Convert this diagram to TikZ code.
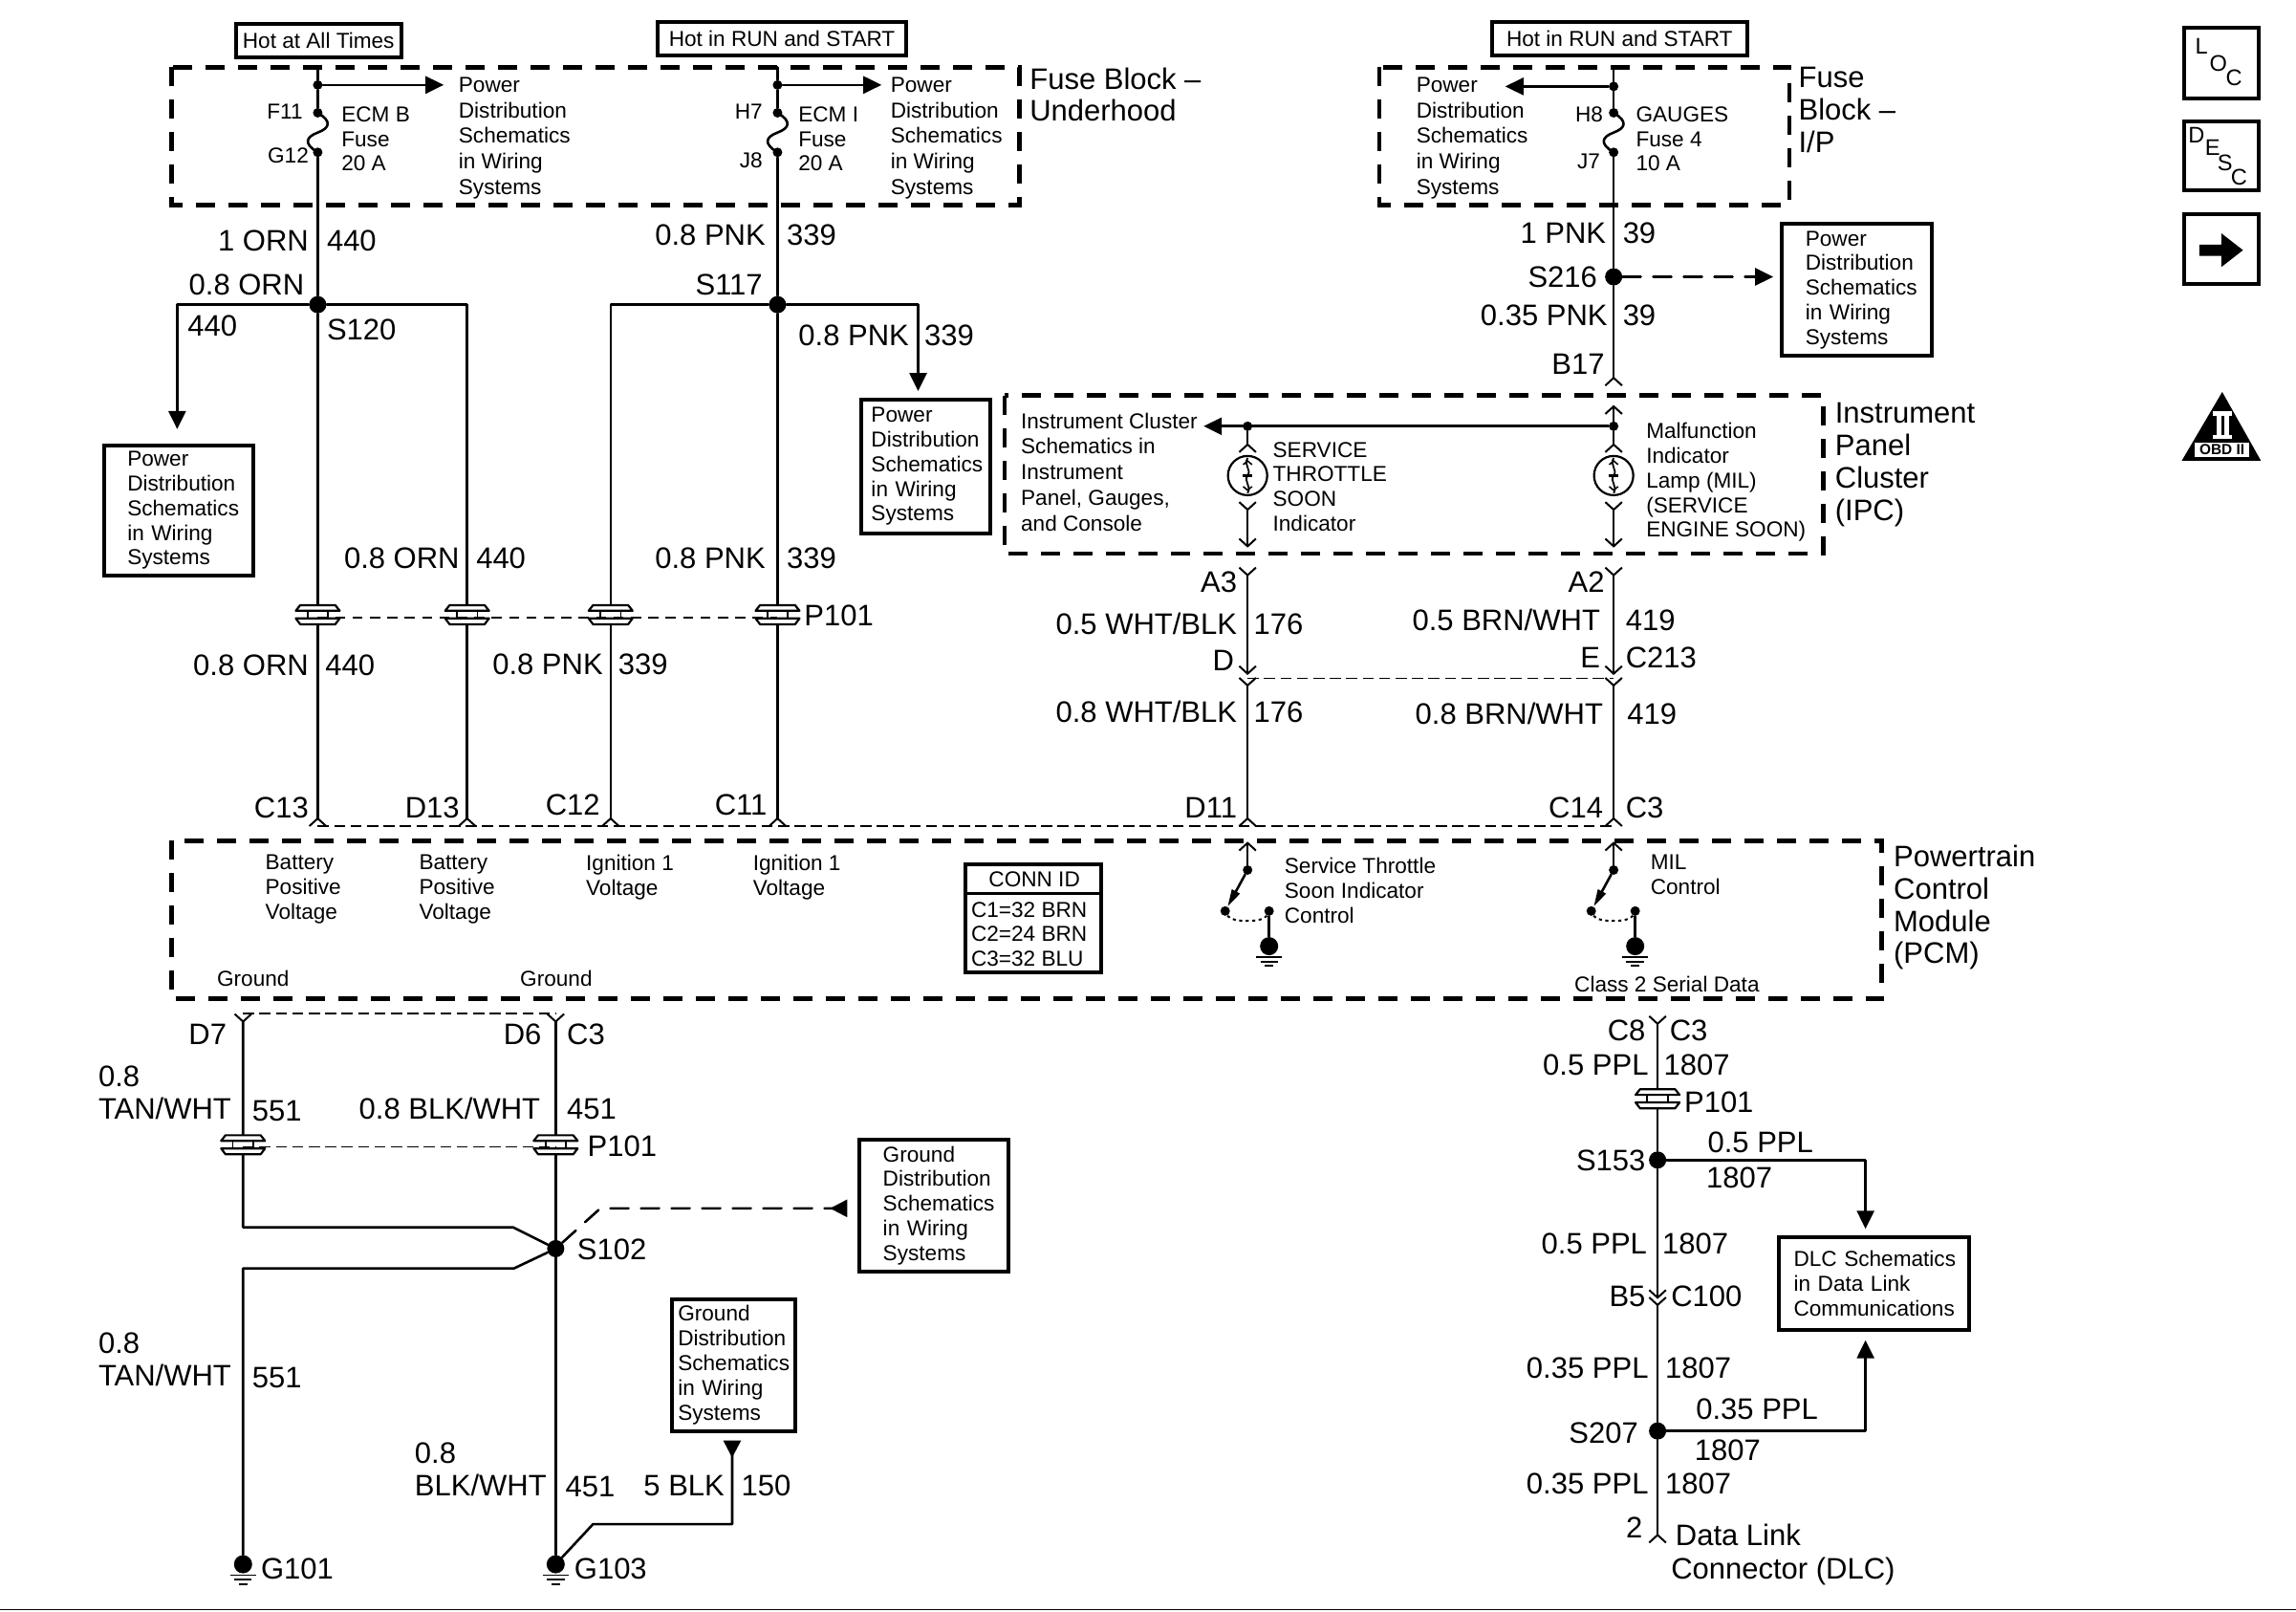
\documentclass[tikz,border=0pt]{standalone}
\usepackage{fontspec}
\setmainfont{Liberation Sans}
\usetikzlibrary{arrows.meta,calc}
\newcount\lblc
\newcommand\bigfont{\fontsize{15.5}{17}\selectfont}
\newcommand\smfont{\fontsize{11.3}{12.9}\selectfont}
\newcommand\smloose{\fontsize{11.3}{13.4}\selectfont}
\tikzset{
  wire/.style={line width=1.3pt,line cap=round,line join=round},
  thin wire/.style={line width=1pt,line join=round},
  fat/.style={-{Triangle[length=9.5pt,width=9pt]}},
  fatback/.style={-{Triangle[reversed,length=9pt,width=9pt]}},
  zone/.style={draw,line width=2.3pt,dash pattern=on 10pt off 7pt},
  link/.style={line width=.7pt,dash pattern=on 5.8pt off 2.8pt},
  link thick/.style={line width=1pt,dash pattern=on 5.3pt off 3.8pt},
  wire dash/.style={dash pattern=on 9.5pt off 6.5pt},
  jd/.style={circle,fill=black,inner sep=0,minimum size=9pt},
  sd/.style={circle,fill=black,inner sep=0,minimum size=5pt},
  gd/.style={circle,fill=black,inner sep=0,minimum size=9.5pt},
  bl/.style={font=\bigfont,inner sep=0,text height=11.1pt,text depth=0pt},
  sl/.style={font=\smfont,inner sep=0,text height=8.2pt,text depth=0pt},
  ml/.style={font=\smfont,inner sep=0,align=left,anchor=north west},
  mn/.style={font=\smloose,inner sep=0,align=left,anchor=north west},
  mb/.style={font=\fontsize{15.5}{16.9}\selectfont,inner sep=0,align=left,anchor=north west},
  pbx/.style={draw,line width=2pt,font=\smfont,inner xsep=0,inner ysep=0,align=left},
  hot/.style={draw,line width=2pt,font=\smfont,inner sep=0,align=center},
  ico/.style={draw,line width=2pt,inner sep=0},
  let/.style={font=\fontsize{11.8}{12}\selectfont,inner sep=0},
}
\newcommand\bigW[3]{\global\advance\lblc1 \node[bl,anchor=west] (t\the\lblc) at (#1,#2) {#3};}
\newcommand\bigE[3]{\global\advance\lblc1 \node[bl,anchor=east] (t\the\lblc) at (#1,#2) {#3};}
\newcommand\smW[3]{\global\advance\lblc1 \node[sl,anchor=west] (t\the\lblc) at (#1,#2) {#3};}
\newcommand\smE[3]{\global\advance\lblc1 \node[sl,anchor=east] (t\the\lblc) at (#1,#2) {#3};}
\newcommand\smM[3]{\global\advance\lblc1 \node[ml] (t\the\lblc) at (#1,{#2-5.5}) {#3};}
\newcommand\smN[3]{\global\advance\lblc1 \node[mn] (t\the\lblc) at (#1,{#2-5.5}) {#3};}
\newcommand\bigM[3]{\global\advance\lblc1 \node[mb] (t\the\lblc) at (#1,{#2-7.2}) {#3};}
% name x1 y1 x2 y2 pad text
\newcommand\pbox[7]{%
  \pgfmathsetmacro\bw{(#4-#2)*0.766}\pgfmathsetmacro\bh{(#5-#3)*0.766}\pgfmathsetmacro\bp{#6*0.766}%
  \node[pbx,text width=\bw pt,minimum height=\bh pt] (#1) at ({(#2+#4)/2},{(#3+#5)/2}) {\leftskip=\bp pt\relax #7\par};}
\newcommand\hotbox[6]{%
  \pgfmathsetmacro\bw{(#4-#2)*0.766}\pgfmathsetmacro\bh{(#5-#3)*0.766}%
  \node[hot,minimum width=\bw pt,minimum height=\bh pt] (#1) at ({(#2+#4)/2},{(#3+#5)/2}) {#6};}
\newcommand\tipU[2]{\draw[thin wire] ({#1-5.7},{#2+5.2}) -- (#1,#2) -- ({#1+5.7},{#2+5.2});}
\newcommand\tipD[2]{\draw[thin wire] ({#1-5.7},{#2-5.2}) -- (#1,#2) -- ({#1+5.7},{#2-5.2});}
\newcommand\pconn[2]{%
  \fill[white] ({#1-10},{#2-2.5}) rectangle ({#1+10},{#2+2.7});
  \draw[line width=1.1pt,line join=round,fill=white] ({#1-12},{#2-6.3}) -- ({#1+12},{#2-6.3}) -- ({#1+15},{#2-2.5}) -- ({#1-15},{#2-2.5}) -- cycle;
  \draw[line width=1.1pt,line join=round,fill=white] ({#1-15},{#2+2.7}) -- ({#1+15},{#2+2.7}) -- ({#1+12},{#2+6.7}) -- ({#1-12},{#2+6.7}) -- cycle;
  \draw[line width=.9pt] ({#1-7},{#2-2.5}) -- ({#1-7},{#2+2.7}) ({#1+7},{#2-2.5}) -- ({#1+7},{#2+2.7});}
\newcommand\gnd[2]{%
  \draw[line width=.9pt] ({#1-9},{#2+7.5}) -- ({#1+9},{#2+7.5});
  \draw[line width=.9pt] ({#1-6},{#2+10.5}) -- ({#1+6},{#2+10.5});
  \draw[line width=.9pt] ({#1-3},{#2+13.5}) -- ({#1+3},{#2+13.5});}
\newcommand\fusew[2]{\draw[wire] (#1.center) .. controls +(10,6) and +(8,-3) .. ($(#1.center)!.5!(#2.center)$) .. controls +(-8,3) and +(-10,-6) .. (#2.center);}
\newcommand\lamp[2]{%
  \draw[line width=1.1pt] (#1,#2) circle [radius=13.4];
  \draw[line width=.9pt] (#1,{#2-12}) .. controls ({#1-3},{#2-7}) and ({#1+3},{#2-4}) .. (#1,#2) .. controls ({#1-3},{#2+4}) and ({#1+3},{#2+7}) .. (#1,{#2+12});
  \draw[line width=.8pt] ({#1-3},{#2-7.5}) -- (#1,{#2-10}) -- ({#1+3},{#2-7.5});
  \draw[line width=.8pt] ({#1-3},{#2+7.5}) -- (#1,{#2+10}) -- ({#1+3},{#2+7.5});
  \draw[line width=1.4pt] ({#1-3.5},#2) -- ({#1+3},#2);}
\newcommand\swtch[2]{% x, name prefix
  \pgfmathsetmacro\gx{#1+14.7}%
  \node[sd] (#2a) at (#1,594) {};
  \node[sd] (#2b) at ({#1-15.3},622) {};
  \node[sd] (#2c) at (\gx,622) {};
  \node[gd] (#2g) at (\gx,646) {};
  \coordinate (#2t) at (#1,575.5);
  \draw[wire] (#2t) -- (#2a);
  \draw[wire,-{Triangle[length=9pt,width=4.5pt]}] (#2a) -- (#2b);
  \draw[line width=1pt,dash pattern=on 1.6pt off 1.8pt] (#2b) .. controls +(4,8) and +(-4,8) .. (#2c);
  \draw[wire] (#2c) -- (#2g);
  \tipU{#1}{575.5}
  \gnd{\gx}{646}}
\begin{document}
\begin{tikzpicture}[x=0.766pt,y=-0.766pt]
\useasboundingbox (0,0) rectangle (1568,1100);
\fill[white] (0,0) rectangle (1568,1100);
\coordinate (bl0) at (0,1099);\coordinate (bl1) at (1568,1099);
\draw[line width=.7pt] (bl0) -- (bl1);

% zones
\draw[zone] (117,46) rectangle (696,140);
\draw[zone] (942,46) rectangle (1222,140);
\draw[zone] (686,270) rectangle (1245,378);
\draw[zone] (117,574) rectangle (1285,682);

% power feed boxes
\hotbox{hotA}{161}{16}{274}{39}{Hot at All Times}
\hotbox{hotB}{449}{15}{619}{38}{Hot in RUN and START}
\hotbox{hotC}{1019}{15}{1193}{38}{Hot in RUN and START}

% top-left junctions
\node[sd] (j1) at (217,58) {};
\node[sd] (f11) at (217,77) {};
\node[sd] (g12) at (217,104) {};
\node[jd] (s120) at (217,208) {};
\node[sd] (j2) at (531,58) {};
\node[sd] (h7) at (531,77) {};
\node[sd] (j8) at (531,104) {};
\node[jd] (s117) at (531,208) {};
\node[sd] (j3) at (1102,59) {};
\node[sd] (h8) at (1102,77) {};
\node[sd] (j7) at (1102,104) {};
\node[jd] (s216) at (1102,189) {};
\coordinate (w1t) at (217,46);\coordinate (w2t) at (531,46);\coordinate (w3t) at (1102,46);
\coordinate (a1) at (303,58);\coordinate (a2) at (602,58);\coordinate (a3) at (1028,59);
\coordinate (c13) at (217,559);\coordinate (d13) at (319,559);\coordinate (c12) at (417,559);\coordinate (c11) at (531,559);
\coordinate (k1) at (121,208);\coordinate (k2) at (319,208);\coordinate (k3) at (417,208);\coordinate (k4) at (627,208);
\coordinate (a4) at (121,293);\coordinate (a5) at (627,267);
\coordinate (b17) at (1102,258);\coordinate (a6) at (1211,189);

\draw[wire] (w1t) -- (j1) -- (f11);
\draw[wire] (g12) -- (s120) -- (c13);
\draw[wire,fat] (j1) -- (a1);
\fusew{f11}{g12}
\draw[wire] (w2t) -- (j2) -- (h7);
\draw[wire] (j8) -- (s117) -- (c11);
\draw[wire,fat] (j2) -- (a2);
\fusew{h7}{j8}
\draw[wire] (w3t) -- (j3) -- (h8);
\draw[wire] (j7) -- (s216) -- (b17);
\draw[wire,fat] (j3) -- (a3);
\fusew{h8}{j7}
\draw[wire,fat] (s120) -- (k1) -- (a4);
\draw[wire] (s120) -- (k2) -- (d13);
\draw[wire] (s117) -- (k3) -- (c12);
\draw[wire,fat] (s117) -- (k4) -- (a5);
\draw[wire,fat,wire dash] (s216) -- (a6);
\tipU{1102}{258}

% P101 upper
\coordinate (p1) at (217,421.7);\coordinate (p4) at (531,421.7);
\pconn{217}{419.5}\pconn{319}{419.5}\pconn{417}{419.5}\pconn{531}{419.5}
\draw[link thick] (p1) -- (p4);
\bigW{549}{420}{P101}

% PCM top link
\coordinate (lt0) at (217,564);\coordinate (lt1) at (1102,564);
\draw[link] (lt0) -- (lt1);
\tipU{217}{558.8}\tipU{319}{558.8}\tipU{417}{558.8}\tipU{531}{558.8}\tipU{852}{558.8}\tipU{1102}{558.8}

% top labels
\smE{207}{76}{F11}\smE{211}{106}{G12}
\smM{233}{78}{ECM B\\Fuse\\20 A}
\smN{313}{58}{Power\\Distribution\\Schematics\\in Wiring\\Systems}
\smE{521}{76}{H7}\smE{521}{109}{J8}
\smM{545}{78}{ECM I\\Fuse\\20 A}
\smN{608}{58}{Power\\Distribution\\Schematics\\in Wiring\\Systems}
\bigM{703}{53}{Fuse Block --\\Underhood}
\smN{967}{58}{Power\\Distribution\\Schematics\\in Wiring\\Systems}
\smE{1095}{78}{H8}\smE{1093}{110}{J7}
\smM{1117}{78}{GAUGES\\Fuse 4\\10 A}
\bigM{1228}{53}{Fuse\\Block --\\I/P}

\bigE{211}{164}{1 ORN}\bigW{223}{164}{440}
\bigE{208}{194}{0.8 ORN}\bigW{128}{222}{440}\bigW{223}{225}{S120}
\bigE{523}{160}{0.8 PNK}\bigW{537}{160}{339}
\bigE{521}{194}{S117}
\bigE{621}{229}{0.8 PNK}\bigW{631}{229}{339}
\bigE{1097}{159}{1 PNK}\bigW{1108}{159}{39}
\bigE{1091}{189}{S216}
\bigE{1098}{215}{0.35 PNK}\bigW{1108}{215}{39}
\bigE{1096}{248}{B17}

\pbox{pd1}{71}{304}{173}{393}{16}{Power\\Distribution\\Schematics\\in Wiring\\Systems}
\pbox{pd2}{588}{273}{676}{364}{7}{Power\\Distribution\\Schematics\\in Wiring\\Systems}
\pbox{pd3}{1217}{153}{1319}{243}{16}{Power\\Distribution\\Schematics\\in Wiring\\Systems}

\bigE{314}{381}{0.8 ORN}\bigW{325}{381}{440}
\bigE{523}{381}{0.8 PNK}\bigW{537}{381}{339}
\bigE{211}{454}{0.8 ORN}\bigW{222}{454}{440}
\bigE{412}{453}{0.8 PNK}\bigW{422}{453}{339}
\bigE{211}{551}{C13}\bigE{314}{551}{D13}\bigE{410}{549}{C12}\bigE{524}{549}{C11}

% IPC
\node[sd] (ipa) at (852,291) {};
\node[sd] (ipb) at (1102,291) {};
\coordinate (a7) at (822,291);
\coordinate (ib0) at (1102,277.4);\coordinate (ib1) at (1102,303.5);\coordinate (ib2) at (1102,348);\coordinate (ib3) at (1102,373);
\coordinate (ia1) at (852,303.5);\coordinate (ia2) at (852,348);\coordinate (ia3) at (852,373);
\draw[wire,fat] (ipb) -- (a7);
\draw[wire] (ib0) -- (ipb) -- (ib1);
\draw[wire] (ipa) -- (ia1);
\draw[wire] (ib2) -- (ib3);
\draw[wire] (ia2) -- (ia3);
\tipU{1102}{277.4}\tipU{1102}{303.5}\tipU{852}{303.5}
\tipD{1102}{348}\tipD{852}{348}\tipD{1102}{373}\tipD{852}{373}
\lamp{852}{324.7}\lamp{1102}{324.7}
\smN{697}{287}{Instrument Cluster\\Schematics in\\Instrument\\Panel, Gauges,\\and Console}
\smM{869}{307}{SERVICE\\THROTTLE\\SOON\\Indicator}
\smM{1124}{294}{Malfunction\\Indicator\\Lamp (MIL)\\(SERVICE\\ENGINE SOON)}
\bigM{1253}{282}{Instrument\\Panel\\Cluster\\(IPC)}

% mid wires
\coordinate (a3y) at (852,392.7);\coordinate (a3d) at (852,460);\coordinate (a3e) at (852,468);\coordinate (d11) at (852,559);
\coordinate (a2y) at (1102,392.7);\coordinate (a2d) at (1102,460);\coordinate (a2e) at (1102,468);\coordinate (c14) at (1102,559);
\draw[wire] (a3y) -- (a3d);\draw[wire] (a3e) -- (d11);
\draw[wire] (a2y) -- (a2d);\draw[wire] (a2e) -- (c14);
\tipD{852}{392.7}\tipD{1102}{392.7}\tipD{852}{460}\tipD{1102}{460}\tipD{852}{468}\tipD{1102}{468}
\coordinate (lm0) at (852,463);\coordinate (lm1) at (1102,463);
\draw[link] (lm0) -- (lm1);
\bigE{845}{397}{A3}\bigE{1096}{397}{A2}
\bigE{845}{426}{0.5 WHT/BLK}\bigW{856}{426}{176}
\bigE{1093}{423}{0.5 BRN/WHT}\bigW{1110}{423}{419}
\bigE{843}{451}{D}\bigE{1093}{449}{E}\bigW{1110}{449}{C213}
\bigE{845}{486}{0.8 WHT/BLK}\bigW{856}{486}{176}
\bigE{1095}{487}{0.8 BRN/WHT}\bigW{1111}{487}{419}
\bigE{845}{551}{D11}\bigE{1095}{551}{C14}\bigW{1110}{551}{C3}

% PCM
\bigM{1293}{584}{Powertrain\\Control\\Module\\(PCM)}
\smM{181}{589}{Battery\\Positive\\Voltage}
\smM{286}{589}{Battery\\Positive\\Voltage}
\smM{400}{589}{Ignition 1\\Voltage}
\smM{514}{589}{Ignition 1\\Voltage}
\smW{148}{668}{Ground}\smW{355}{668}{Ground}
\smM{877}{591}{Service Throttle\\Soon Indicator\\Control}
\smM{1127}{589}{MIL\\Control}
\smW{1075}{672}{Class 2 Serial Data}
\node[draw,line width=2pt,minimum width=71.2pt,minimum height=56.7pt,inner sep=0] (cid) at (705.5,627) {};
\coordinate (cl) at (659,610);\coordinate (cr) at (752,610);
\draw[line width=1.3pt] (cl) -- (cr);
\smW{675}{600}{CONN ID}
\smM{663}{621}{C1=32 BRN\\C2=24 BRN\\C3=32 BLU}
\swtch{852}{sa}
\swtch{1102}{sb}

% bottom left
\coordinate (d7) at (166,697.5);\coordinate (d6) at (379.5,697.5);
\coordinate (c1) at (166,838);\coordinate (c2) at (350.5,838);\coordinate (c3) at (351,866);\coordinate (c4) at (166,866);
\node[jd] (s102) at (379.5,852.5) {};
\node[gd] (g101) at (166,1068) {};
\node[gd] (g103) at (379.5,1068) {};
\coordinate (e1) at (405,1040.6);\coordinate (e2) at (500,1040.6);\coordinate (a8) at (500,983.5);
\coordinate (f1) at (410,825);\coordinate (a9) at (578.6,825);
\draw[wire] (d7) -- (c1) -- (c2) -- (s102);
\draw[wire] (s102) -- (c3) -- (c4) -- (g101);
\draw[wire] (d6) -- (g103);
\draw[wire,fatback] (g103) -- (e1) -- (e2) -- (a8);
\draw[wire,fatback,wire dash] (s102) -- (f1) -- (a9);
\tipD{166}{697.5}\tipD{379.5}{697.5}
\coordinate (ld0) at (166,692);\coordinate (ld1) at (379.5,692);
\draw[link] (ld0) -- (ld1);
\coordinate (lp0) at (166,783.2);\coordinate (lp1) at (379.5,783.2);
\pconn{166}{781.4}\pconn{379.5}{781.4}
\draw[link] (lp0) -- (lp1);
\gnd{166}{1068}\gnd{379.5}{1068}
\bigE{155}{706}{D7}\bigE{370}{706}{D6}\bigW{387}{706}{C3}
\bigM{67}{735}{0.8\\TAN/WHT}\bigW{172}{758}{551}
\bigW{245}{757}{0.8 BLK/WHT}\bigW{387}{757}{451}
\bigW{401}{782}{P101}\bigW{394}{853}{S102}
\bigM{67}{917}{0.8\\TAN/WHT}\bigW{172}{940}{551}
\bigM{283}{992}{0.8\\BLK/WHT}\bigW{386}{1015}{451}
\bigE{495}{1014}{5 BLK}\bigW{506}{1014}{150}
\bigW{178}{1071}{G101}\bigW{392}{1071}{G103}
\pbox{gd1}{587}{778}{689}{868}{16}{Ground\\Distribution\\Schematics\\in Wiring\\Systems}
\pbox{gd2}{459}{887}{543}{977}{4}{Ground\\Distribution\\Schematics\\in Wiring\\Systems}

% bottom right
\coordinate (c8) at (1132,699);\coordinate (b5u) at (1132,886);\coordinate (b5d) at (1132,891);\coordinate (dlc) at (1132,1048);
\node[jd] (s153) at (1132,792) {};
\node[jd] (s207) at (1132,977) {};
\coordinate (r1) at (1274,792);\coordinate (a10) at (1274,839);
\coordinate (r2) at (1274,977);\coordinate (a11) at (1274,915);
\draw[wire] (c8) -- (s153) -- (b5u);
\draw[wire] (b5d) -- (s207) -- (dlc);
\draw[wire,fat] (s153) -- (r1) -- (a10);
\draw[wire,fat] (s207) -- (r2) -- (a11);
\tipD{1132}{699}\tipD{1132}{886}\tipD{1132}{891}\tipU{1132}{1048}
\pconn{1132}{750}
\bigE{1124}{703}{C8}\bigW{1140}{703}{C3}
\bigE{1126}{727}{0.5 PPL}\bigW{1136}{727}{1807}
\bigW{1150}{752}{P101}
\bigE{1124}{792}{S153}
\bigW{1166}{780}{0.5 PPL}\bigW{1165}{804}{1807}
\bigE{1125}{849}{0.5 PPL}\bigW{1135}{849}{1807}
\bigE{1124}{885}{B5}\bigW{1141}{885}{C100}
\bigE{1126}{934}{0.35 PPL}\bigW{1137}{934}{1807}
\bigE{1119}{978}{S207}
\bigW{1158}{962}{0.35 PPL}\bigW{1157}{990}{1807}
\bigE{1126}{1013}{0.35 PPL}\bigW{1137}{1013}{1807}
\bigE{1122}{1043}{2}
\bigW{1144}{1048}{Data Link}\bigW{1141}{1071}{Connector (DLC)}
\pbox{dlcb}{1215}{845}{1345}{908}{10}{DLC Schematics\\in Data Link\\Communications}

% icons
\node[ico,minimum width=38.7pt,minimum height=36.8pt] (loc) at (1517,43) {};
\node[let] (lL) at (1503.5,31.6) {L};\node[let] (lO) at (1515,43.5) {O};\node[let] (lC) at (1525.7,53) {C};
\node[ico,minimum width=38.7pt,minimum height=36pt] (desc) at (1517,106.5) {};
\node[let] (dD) at (1500,92.5) {D};\node[let] (dE) at (1511,101) {E};\node[let] (dS) at (1519.5,111) {S};\node[let] (dC) at (1529,120.8) {C};
\node[ico,minimum width=38.7pt,minimum height=36.8pt] (nxt) at (1517,170) {};
\fill (1502,167) -- (1517,167) -- (1517,159.3) -- (1531.8,170.8) -- (1517,182.3) -- (1517,174.7) -- (1502,174.7) -- cycle;
\fill (1517.6,267.6) -- (1544,314.5) -- (1490,314.5) -- cycle;
\fill[white] (1511,280.7) rectangle (1524,284);
\fill[white] (1513.7,284) rectangle (1517,297);
\fill[white] (1518.7,284) rectangle (1522,297);
\fill[white] (1511,297) rectangle (1524,299.7);
\node[fill=white,inner sep=0,minimum width=28.3pt,minimum height=7.3pt,font=\fontsize{7.7}{8}\selectfont\bfseries] (obd) at (1517.5,307.2) {OBD II};
\end{tikzpicture}
\end{document}
